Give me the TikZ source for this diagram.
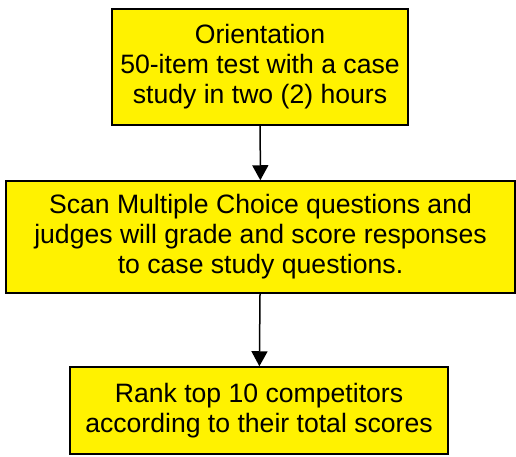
\documentclass[tikz,border=0pt]{standalone}
\usepackage{fontspec}
\setmainfont{Liberation Sans}
\usetikzlibrary{arrows.meta, positioning}

\begin{document}
\begin{tikzpicture}[x=1pt, y=1pt, >={Triangle[width=16pt, length=15pt]},
      stagebox/.style={draw, line width=1.5pt, fill=yellow, align=center, inner sep=0pt,
                       font=\fontsize{26.6}{30}\selectfont},
      flow/.style={->, line width=1.5pt}]

    \useasboundingbox (0,0) rectangle (516,-457);

    % === the three stages ===
    \node[stagebox, minimum width=296pt, minimum height=116pt] (orient) at (260,-67)
        {Orientation\\50-item test with a case\\study in two (2) hours};
    \node[stagebox, minimum width=509pt, minimum height=112pt] (scan) at (260.5,-237)
        {Scan Multiple Choice questions and\\judges will grade and score responses\\to case study questions.};
    \node[stagebox, minimum width=378pt, minimum height=87pt] (rank) at (259,-410.5)
        {Rank top 10 competitors\\according to their total scores};

    % === arrows between stages ===
    \draw[flow] (orient) -- (scan);
    \draw[flow] (scan) -- (rank);

\end{tikzpicture}
\end{document}
